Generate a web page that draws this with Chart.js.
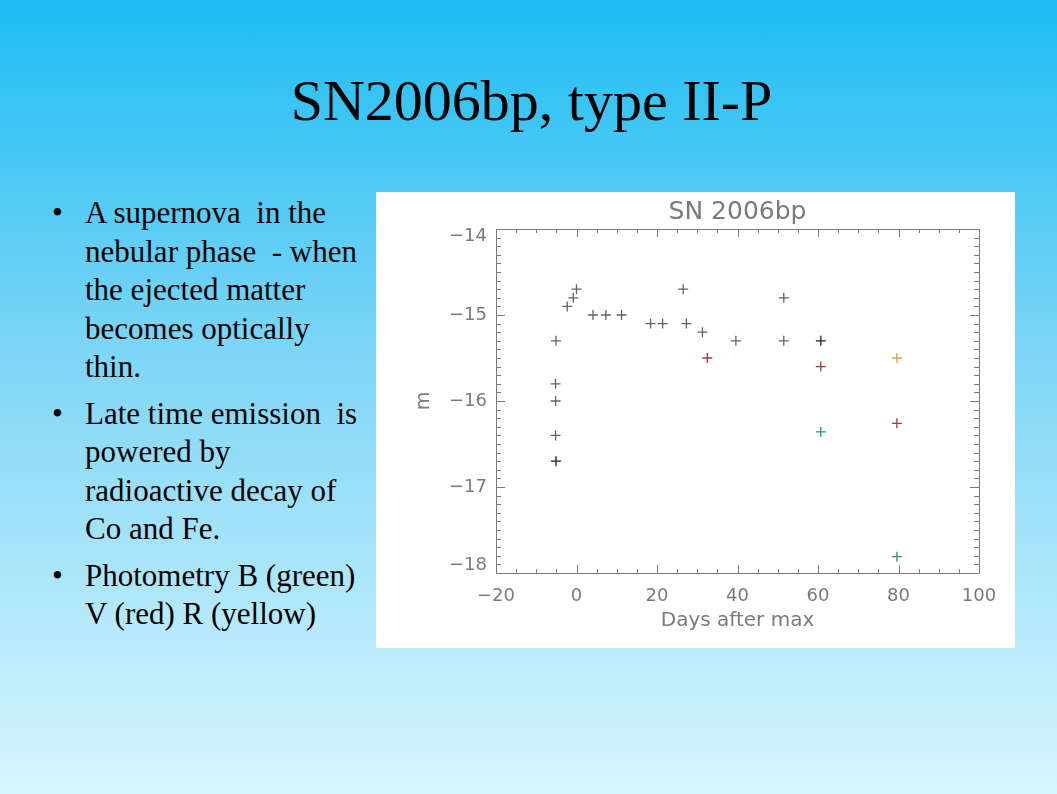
<!DOCTYPE html>
<html>
<head>
<meta charset="utf-8">
<title>SN2006bp, type II-P</title>
<script src="https://cdn.jsdelivr.net/npm/chart.js@4"></script>
<style>
  html, body { margin: 0; padding: 0; }
  body {
    width: 1057px; height: 794px; overflow: hidden; position: relative;
    background: linear-gradient(to bottom, #1dbdf3 0%, #7fd6f6 45%, #d8f6fe 100%);
    font-family: "Liberation Serif", "Times New Roman", serif;
  }
  #slideTitle {
    position: absolute; left: 3px; top: 72px; width: 1057px;
    text-align: center; font-size: 58px; line-height: 57px; color: #000;
  }
  #bullets {
    position: absolute; left: 52px; top: 194px; margin: 0; padding: 0;
    list-style: none; font-size: 31px; line-height: 38.5px; color: #000;
  }
  #bullets li { position: relative; padding-left: 33px; margin-bottom: 8px; white-space: pre; }
  #bullets li::before { content: "\2022"; position: absolute; left: 0; top: 0; }
  #chartBox {
    position: absolute; left: 376px; top: 192px; width: 639px; height: 456px;
    background: #fff;
  }
</style>
</head>
<body>
<div id="slideTitle">SN2006bp, type II-P</div>
<ul id="bullets">
  <li>A supernova  in the<br>nebular phase  - when<br>the ejected matter<br>becomes optically<br>thin.</li>
  <li>Late time emission  is<br>powered by<br>radioactive decay of<br>Co and Fe.</li>
  <li>Photometry B (green)<br>V (red) R (yellow)</li>
</ul>
<div id="chartBox"><canvas id="lightCurve" width="639" height="456"></canvas></div>

<script>
// Light curve data (days after max, magnitude)
const unfilteredDays = [-5.1, -5.2, -5.2, -5.2, -2.3, -0.8, 0, 4.1, 7.3, 11.2, 18.4, 21.4, 26.5, 27.3, 31.3, 39.6, 51.5, 51.5];
const unfilteredMags = [-15.3, -15.8, -16.0, -16.4, -14.9, -14.8, -14.7, -15.0, -15.0, -15.0, -15.1, -15.1, -14.7, -15.1, -15.2, -15.3, -14.8, -15.3];
const darkDays = [-5.1, 60.7];
const darkMags = [-16.7, -15.3];
const vDays = [32.5, 60.7, 79.6];
const vMags = [-15.5, -15.6, -16.26];
const bDays = [60.7, 79.6];
const bMags = [-16.36, -17.81];
const rDays = [79.6];
const rMags = [-15.5];

const xTicks = [-20, 0, 20, 40, 60, 80, 100];
const yTicks = [-18, -17, -16, -15, -14];

const axisGray = '#7a7a7a';
const labelFont = { family: 'DejaVu Sans', size: 18 };

function toPoints(xs, ys) {
    return xs.map((x, i) => ({ x: x, y: ys[i] }));
}

function fmtTick(v) {
    return v < 0 ? '\u2212' + Math.abs(v) : String(v);
}

// end labels sit just inside the axis range, like the IDL plot
function fmtYTick(v) {
    const s = fmtTick(v);
    if (v === yTicks[yTicks.length - 1]) return ['', s];
    if (v === yTicks[0]) return [s, ''];
    return s;
}

// IDL style box with inward ticks on all four sides
const boxTicks = {
    id: 'boxTicks',
    afterDatasetsDraw(chart) {
        const { ctx, chartArea: a, scales } = chart;
        const xs = scales.x, ys = scales.y;
        ctx.save();
        ctx.strokeStyle = axisGray;
        ctx.lineWidth = 1;
        ctx.beginPath();
        ctx.rect(a.left + 0.5, a.top + 0.5, a.right - a.left, a.bottom - a.top);
        for (let d = -20; d <= 100; d += 5) {
            const px = Math.round(xs.getPixelForValue(d)) + 0.5;
            const len = (d % 20 === 0) ? 8 : 4;
            ctx.moveTo(px, a.bottom); ctx.lineTo(px, a.bottom - len);
            ctx.moveTo(px, a.top); ctx.lineTo(px, a.top + len);
        }
        for (let k = -180; k <= -140; k += 1) {
            const py = Math.round(ys.getPixelForValue(k / 10)) + 0.5;
            const len = (k % 10 === 0) ? 9 : 5;
            ctx.moveTo(a.left, py); ctx.lineTo(a.left + len, py);
            ctx.moveTo(a.right, py); ctx.lineTo(a.right - len, py);
        }
        ctx.stroke();
        ctx.restore();
    }
};

function crossSet(label, xs, ys, color) {
    return {
        label: label,
        data: toPoints(xs, ys),
        pointStyle: 'cross',
        pointRadius: 5,
        pointHoverRadius: 5,
        pointBorderWidth: 1.3,
        borderColor: color,
        backgroundColor: color
    };
}

const ctx = document.getElementById('lightCurve').getContext('2d');
const lightCurveChart = new Chart(ctx, {
    type: 'scatter',
    data: {
        datasets: [
            crossSet('Unfiltered', unfilteredDays, unfilteredMags, '#626262'),
            crossSet('Unfiltered (dark)', darkDays, darkMags, '#1e1e1e'),
            crossSet('V', vDays, vMags, '#b2343a'),
            crossSet('B', bDays, bMags, '#1f9a72'),
            crossSet('R', rDays, rMags, '#dca13a')
        ]
    },
    options: {
        responsive: false,
        animation: false,
        layout: { padding: { left: 0, right: 36, top: 0, bottom: 0 } },
        scales: {
            x: {
                type: 'linear',
                min: -20,
                max: 100,
                afterBuildTicks: (s) => { s.ticks = xTicks.map(v => ({ value: v })); },
                afterFit: (s) => { s.height = 75; },
                grid: { display: false, drawTicks: false },
                border: { display: false },
                ticks: { color: axisGray, font: labelFont, padding: 13, maxRotation: 0, callback: fmtTick },
                title: { display: true, text: 'Days after max', color: axisGray,
                         font: { family: 'DejaVu Sans', size: 20 }, padding: { top: 0, bottom: 15 } }
            },
            y: {
                type: 'linear',
                min: -18,
                max: -14,
                afterBuildTicks: (s) => { s.ticks = yTicks.map(v => ({ value: v })); },
                afterFit: (s) => { s.width = 120; },
                grid: { display: false, drawTicks: false },
                border: { display: false },
                ticks: { color: axisGray, font: { family: 'DejaVu Sans', size: 18, lineHeight: 0.8 },
                         padding: 9, callback: fmtYTick },
                title: { display: true, text: 'm', color: axisGray,
                         font: { family: 'DejaVu Sans', size: 19 }, padding: { top: 37, bottom: 0 } }
            }
        },
        plugins: {
            legend: { display: false },
            tooltip: { enabled: false },
            title: {
                display: true,
                fullSize: false,
                text: 'SN 2006bp',
                color: axisGray,
                font: { family: 'DejaVu Sans', size: 25, weight: 'normal', lineHeight: 1.2 },
                padding: { top: 5, bottom: 2 }
            }
        }
    },
    plugins: [boxTicks]
});
</script>
</body>
</html>
